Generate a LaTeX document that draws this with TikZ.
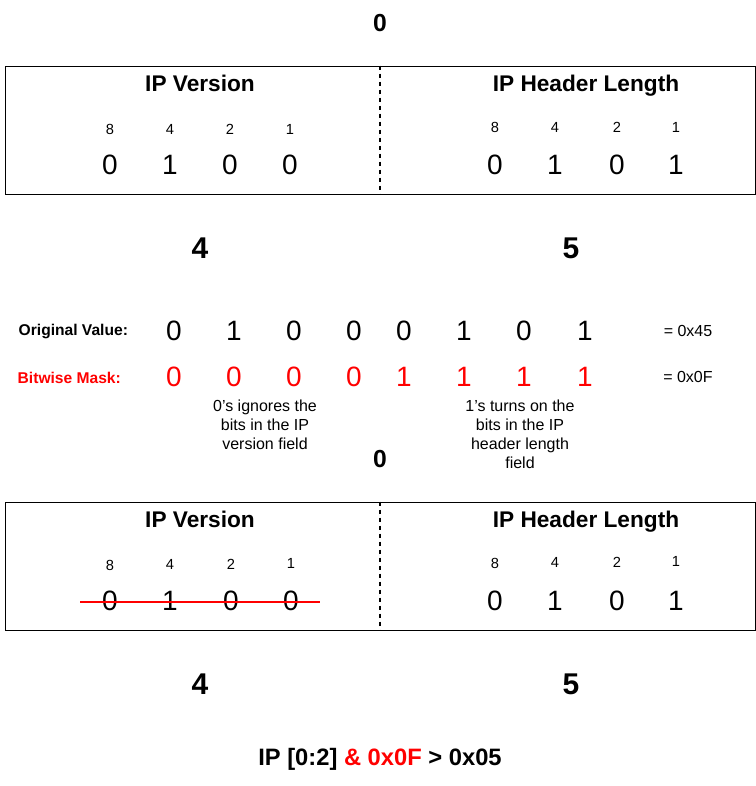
\documentclass[tikz,border=0pt]{standalone}
\usepackage{fontspec}
\setmainfont{Liberation Sans}
\usetikzlibrary{positioning}

\begin{document}
\begin{tikzpicture}[
    x=0.75pt, y=-0.75pt,
    field/.style={draw, line width=0.75pt, minimum width=562.5pt, minimum height=96pt, inner sep=0pt},
    split/.style={line width=1.1pt, dash pattern=on 3pt off 3pt},
    title/.style={font=\fontsize{17}{20}\selectfont\bfseries, text height=12.2pt, text depth=3.6pt},
    big/.style={font=\fontsize{18.5}{21}\selectfont\bfseries},
    nibble/.style={font=\fontsize{22.5}{26}\selectfont\bfseries},
    weight/.style={font=\fontsize{11}{13}\selectfont},
    bit/.style={font=\fontsize{21}{24}\selectfont},
    lbl/.style={font=\fontsize{11.7}{14}\selectfont\bfseries, anchor=west},
    note/.style={font=\fontsize{12}{14.25}\selectfont, align=center},
    strike/.style={red, line width=1.5pt}
]
\useasboundingbox (0,0) rectangle (756,786);

\node[big] (n0a) at (380,23) {0};
\node[field] (f1) at (380,130) {};
\draw[split] (f1.north) -- (f1.south);
\node[title] (v1) at (200,86) {IP Version};
\node[title] (h1) at (586,86) {IP Header Length};
\foreach \w/\x/\b [count=\i] in {8/110/0,4/170/1,2/230/0,1/290/0} {
  \node[weight] (w1l\i) at (\x,129) {\w};
  \node[bit] (b1l\i) at (\x,165) {\b};
}
\foreach \w/\x/\b [count=\i] in {8/495/0,4/555/1,2/617/0,1/676/1} {
  \node[weight] (w1r\i) at (\x,127) {\w};
  \node[bit] (b1r\i) at (\x,165) {\b};
}
\node[nibble] (n4a) at (200,248) {4};
\node[nibble] (n5a) at (571,248) {5};

\node[lbl] (orig) at (14,331) {Original Value:};
\node[lbl, red] (mask) at (13,378) {Bitwise Mask:};
\foreach \x/\o/\m [count=\i] in {174/0/0,234/1/0,294/0/0,354/0/0,404/0/1,464/1/1,524/0/1,585/1/1} {
  \node[bit] (o\i) at (\x,331) {\o};
  \node[bit, red] (m\i) at (\x,377) {\m};
}
\node[note] (hex1) at (688,331) {= 0x45};
\node[note] (hex2) at (688,377) {= 0x0F};
\node[note] (ign) at (265,425) {0's ignores the\\bits in the IP\\version field};
\node[note] (turn) at (520,434.5) {1's turns on the\\bits in the IP\\header length\\field};

\node[big] (n0b) at (380,459) {0};
\node[field] (f2) at (380,566) {};
\draw[split] (f2.north) -- (f2.south);
\node[title] (v2) at (200,522) {IP Version};
\node[title] (h2) at (586,522) {IP Header Length};
\foreach \w/\x/\y/\b [count=\i] in {8/110/565/0,4/170/564/1,2/231/564/0,1/291/563/0} {
  \node[weight] (w2l\i) at (\x,\y) {\w};
  \node[bit] (b2l\i) at (\x,601) {\b};
}
\foreach \w/\x/\y/\b [count=\i] in {8/495/563/0,4/555/562/1,2/617/562/0,1/676/561/1} {
  \node[weight] (w2r\i) at (\x,\y) {\w};
  \node[bit] (b2r\i) at (\x,601) {\b};
}
\coordinate (s1) at (80,602);
\coordinate (s2) at (320,602);
\draw[strike] (s1) -- (s2);
\node[nibble] (n4b) at (200,684) {4};
\node[nibble] (n5b) at (571,684) {5};

\node[big, font=\fontsize{17.8}{21}\selectfont\bfseries] (expr) at (380,759) {IP [0:2] \textcolor{red}{\& 0x0F} > 0x05};
\end{tikzpicture}
\end{document}
